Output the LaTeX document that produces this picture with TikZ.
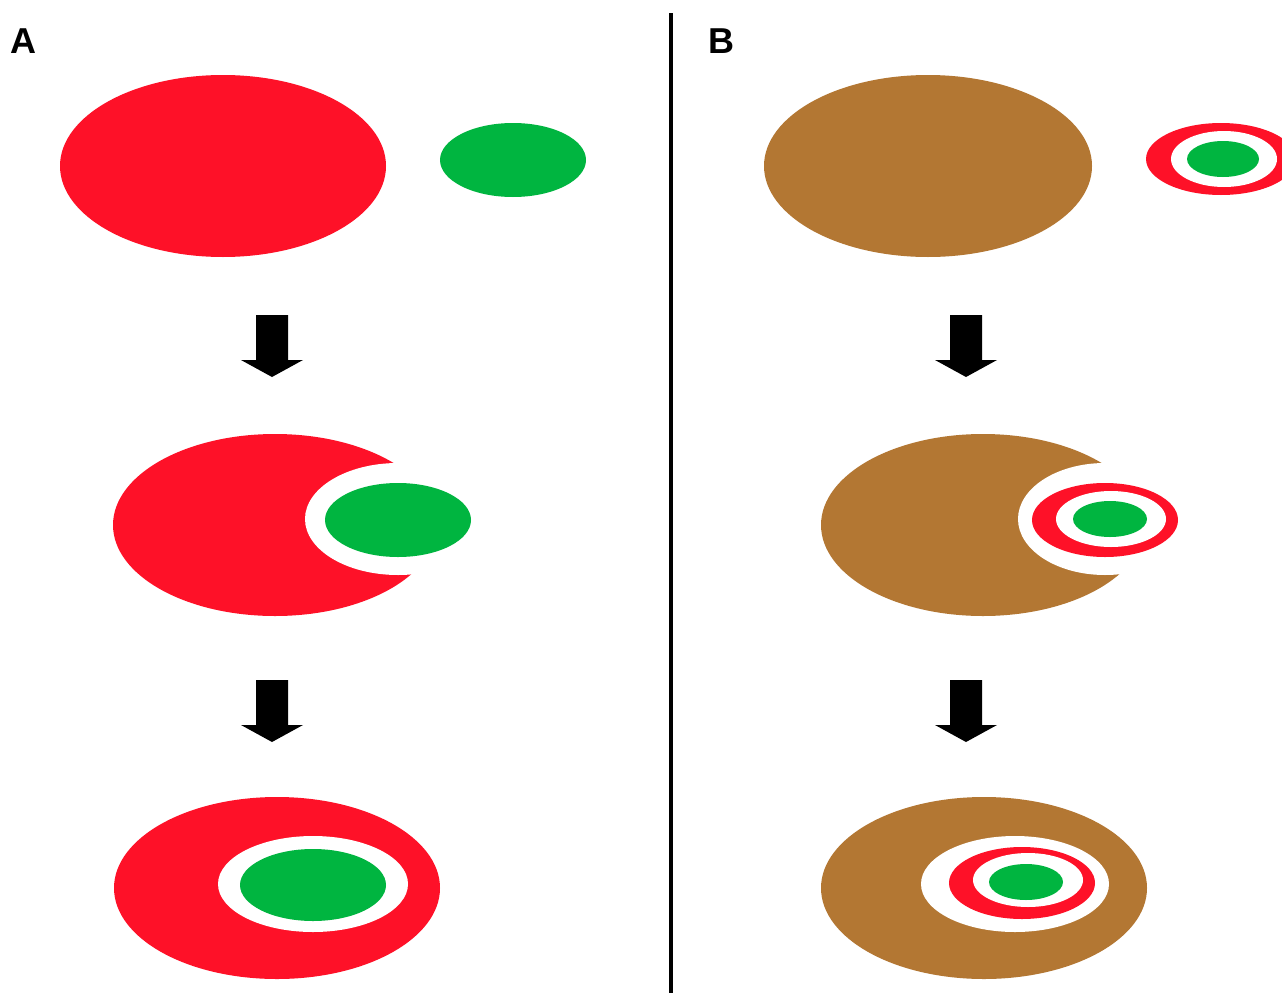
\documentclass[tikz,border=0pt]{standalone}
\usepackage{fontspec}
\setmainfont{Liberation Sans}
\definecolor{cellred}{RGB}{254,17,40}
\definecolor{cellgreen}{RGB}{0,181,64}
\definecolor{cellbrown}{RGB}{179,119,51}
\tikzset{
  panel label/.style={font=\fontsize{36}{40}\selectfont\bfseries, inner sep=0pt},
  red cell/.style={fill=cellred},
  green cell/.style={fill=cellgreen},
  brown cell/.style={fill=cellbrown},
  gap/.style={fill=white},
  block arrow/.style={fill=black},
}

\begin{document}
\begin{tikzpicture}[x=1pt,y=-1pt]
      \clip (0,0) rectangle (1282,993);
      \fill[white] (0,0) rectangle (1282,993);

      % panel labels and divider
      \node[panel label] (labA) at (23,41) {A};
      \node[panel label] (labB) at (721,41) {B};
      \draw[line width=3.5pt] (671,13) -- (671,993);

      % arrows
      \foreach \ax/\ay in {272/315, 272/680, 966/315, 966/680}
        \fill[block arrow] (\ax-16,\ay) -- (\ax+16,\ay) -- (\ax+16,\ay+45)
          -- (\ax+31,\ay+45) -- (\ax,\ay+62) -- (\ax-31,\ay+45)
          -- (\ax-16,\ay+45) -- cycle;

      % panel A, top
      \fill[red cell] (223,166) ellipse [x radius=163pt, y radius=91pt];
      \fill[green cell] (513,160) ellipse [x radius=73pt, y radius=37pt];
      % panel A, middle
      \fill[red cell] (275,525) ellipse [x radius=162pt, y radius=91pt];
      \fill[gap] (398,519) ellipse [x radius=93pt, y radius=56pt];
      \fill[green cell] (398,520) ellipse [x radius=73pt, y radius=37pt];
      % panel A, bottom
      \fill[red cell] (277,888) ellipse [x radius=163pt, y radius=91pt];
      \fill[gap] (313,884) ellipse [x radius=95pt, y radius=48pt];
      \fill[green cell] (313,885) ellipse [x radius=73pt, y radius=36pt];

      % panel B, top
      \fill[brown cell] (928,166) ellipse [x radius=164pt, y radius=91pt];
      \fill[red cell] (1221,159) ellipse [x radius=75pt, y radius=36pt];
      \fill[gap] (1224,159) ellipse [x radius=53pt, y radius=28pt];
      \fill[green cell] (1223,159) ellipse [x radius=36pt, y radius=18pt];
      % panel B, middle
      \fill[brown cell] (983,525) ellipse [x radius=162pt, y radius=91pt];
      \fill[gap] (1105,519) ellipse [x radius=87pt, y radius=56pt];
      \fill[red cell] (1105,520) ellipse [x radius=73pt, y radius=37pt];
      \fill[gap] (1111,519) ellipse [x radius=55pt, y radius=28pt];
      \fill[green cell] (1110,519) ellipse [x radius=37pt, y radius=18pt];
      % panel B, bottom
      \fill[brown cell] (984,888) ellipse [x radius=163pt, y radius=91pt];
      \fill[gap] (1015,884) ellipse [x radius=94pt, y radius=48pt];
      \fill[red cell] (1022,883) ellipse [x radius=73pt, y radius=36pt];
      \fill[gap] (1028,880) ellipse [x radius=55pt, y radius=27pt];
      \fill[green cell] (1026,882) ellipse [x radius=37pt, y radius=18pt];
    \end{tikzpicture}
\end{document}
